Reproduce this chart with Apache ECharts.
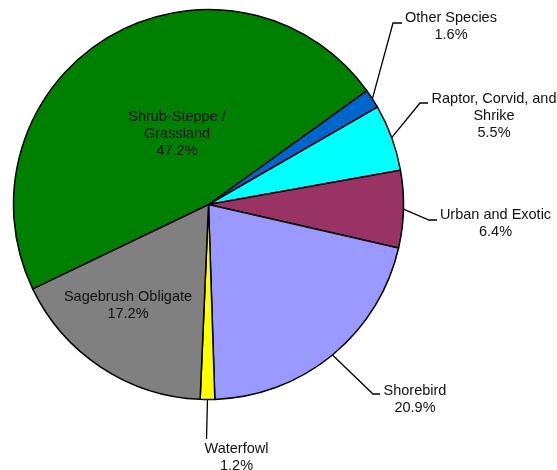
<!DOCTYPE html>
<html>
<head>
<meta charset="utf-8">
<script src="https://cdn.jsdelivr.net/npm/echarts@6/dist/echarts.min.js"></script>
<style>
html,body{margin:0;padding:0;background:#fff;}
#chart{width:557px;height:470px;}
</style>
</head>
<body>
<div id="chart"></div>
<script>
// ---- data ----
var categories = ['Other Species', 'Raptor, Corvid, and Shrike', 'Urban and Exotic', 'Shorebird', 'Waterfowl', 'Sagebrush Obligate', 'Shrub-Steppe / Grassland'];
var labelNames = ['Other Species', 'Raptor, Corvid, and\nShrike', 'Urban and Exotic', 'Shorebird', 'Waterfowl', 'Sagebrush Obligate', 'Shrub-Steppe /\nGrassland'];
var values = [1.6, 5.5, 6.4, 20.9, 1.2, 17.2, 47.2];

// ---- styles ----
var colors = ['#0066CC', '#00FFFF', '#993366', '#9999FF', '#FFFF00', '#808080', '#008000'];
var insideSet = {'Sagebrush Obligate': true, 'Shrub-Steppe / Grassland': true};
// label block centres and leader-line end points (layout only)
var labelPlace = {
  'Other Species': {c: [451, 26.5], end: [402, 23], elbow: [393, 23]},
  'Raptor, Corvid, and Shrike': {c: [494, 116], end: [428, 103], elbow: [420, 103]},
  'Urban and Exotic': {c: [495.5, 223], end: [437, 220], elbow: [429, 220]},
  'Shorebird': {c: [415, 399], end: [380, 394], elbow: [373, 394]},
  'Waterfowl': {c: [236.5, 457.5], end: [206.5, 439], elbow: [206.5, 439]},
  'Sagebrush Obligate': {c: [128, 305.5]},
  'Shrub-Steppe / Grassland': {c: [177, 134]}
};

var chart = echarts.init(document.getElementById('chart'), null, {renderer: 'canvas'});

var seriesData = categories.map(function (name, i) {
  var inside = !!insideSet[name];
  return {
    name: name,
    value: values[i],
    itemStyle: {color: colors[i]},
    label: {position: inside ? 'inside' : 'outside'},
    labelLine: {show: !inside}
  };
});

chart.setOption({
  animation: false,
  series: [{
    type: 'pie',
    center: [208.5, 204.5],
    radius: [0, 195],
    startAngle: 35.7,
    clockwise: true,
    avoidLabelOverlap: false,
    data: seriesData,
    itemStyle: {borderColor: '#000', borderWidth: 1.5},
    emphasis: {disabled: true},
    label: {
      show: true,
      color: '#111',
      fontFamily: '"Liberation Sans", Arial, sans-serif',
      fontSize: 14.5,
      lineHeight: 17,
      align: 'center',
      formatter: function (p) {
        return labelNames[p.dataIndex] + '\n' + p.value.toFixed(1) + '%';
      }
    },
    labelLine: {
      show: true,
      length: 20,
      length2: 8,
      lineStyle: {color: '#000', width: 1.3}
    },
    labelLayout: function (params) {
      var name = categories[params.dataIndex];
      var pl = labelPlace[name];
      var out = {x: pl.c[0], y: pl.c[1], align: 'center', verticalAlign: 'middle'};
      if (pl.end && params.labelLinePoints) {
        var rim = params.labelLinePoints[0];
        out.labelLinePoints = [rim, pl.elbow, pl.end];
      }
      return out;
    }
  }]
});
</script>
</body>
</html>
